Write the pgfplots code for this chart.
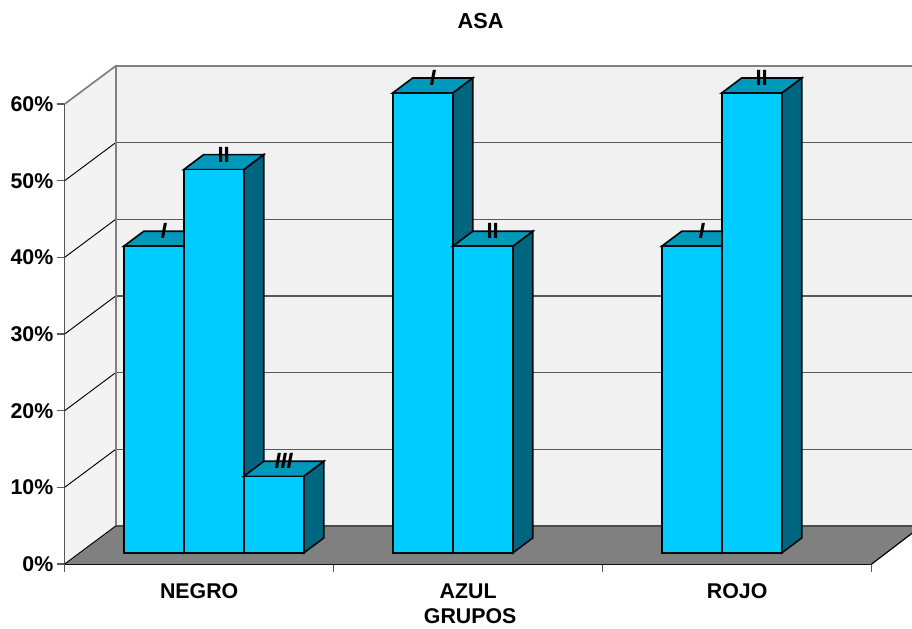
\documentclass[border=0pt]{standalone}
\usepackage{pgfplots}
\usepackage{fontspec}
\pgfplotsset{compat=1.18}
\setmainfont{Liberation Sans}
\definecolor{barfront}{HTML}{00CCFF}
\definecolor{bartop}{HTML}{0099BB}
\definecolor{barside}{HTML}{006680}
\definecolor{wallfill}{HTML}{F1F1F1}
\definecolor{sidewall}{HTML}{F3F3F3}
\definecolor{floorfill}{HTML}{808080}
\definecolor{walledge}{HTML}{808080}
\newcommand{\chartfont}{\bfseries\fontsize{16}{18}\selectfont}
% One 3D column: side, top and front face, lifted off the floor line.
% #1 centre x, #2 value, #3 data label
\newcommand{\drawcolumn}[3]{%
  \pgfmathsetmacro{\xl}{#1-30}%
  \pgfmathsetmacro{\xr}{#1+30}%
  \pgfmathsetmacro{\xlb}{#1-10}%
  \pgfmathsetmacro{\xrb}{#1+50}%
  \pgfmathsetmacro{\yb}{#2+1.957}%
  \pgfmathsetmacro{\zb}{1.957}%
  \edef\faces{%
    \noexpand\addplot[columnedge,fill=barside] coordinates {(\xr,0) (\xrb,\zb) (\xrb,\yb) (\xr,#2)} --cycle;
    \noexpand\addplot[columnedge,fill=bartop] coordinates {(\xl,#2) (\xr,#2) (\xrb,\yb) (\xlb,\yb)} --cycle;
  }\faces
  \addplot[columnedge,fill=barfront,ybar,bar width=60,bar shift=0pt,
    nodes near coords={#3},
    every node near coord/.append style={anchor=center,xshift=7.5pt,yshift=11.25pt,
      font=\fontsize{16.5}{18}\selectfont,text=black}]
    coordinates {(#1,#2)};
}
\begin{document}
\begin{tikzpicture}
\path[use as bounding box] (-48.5pt,-48pt) rectangle (635.5pt,423pt);
\begin{axis}[
  at={(0pt,0pt)}, anchor=origin,
  scale only axis, width=605.25pt, height=345pt,
  xmin=64, xmax=871, ymin=0, ymax=60,
  clip=false,
  axis x line*=bottom, axis y line*=left,
  axis line style={black,line width=0.9pt,-},
  xtick={64,333,602,871},
  x tick label as interval,
  xticklabels={NEGRO,AZUL,ROJO},
  ytick={0,10,...,60},
  yticklabel={\pgfmathprintnumber{\tick}\%},
  /pgf/number format/assume math mode=true,
  tick align=outside,
  major tick length=6pt,
  tick style={draw=black!65,line width=0.9pt},
  tick label style={font=\chartfont,text=black},
  xticklabel style={yshift=-5pt},
  yticklabel style={xshift=1pt},
  title=ASA,
  title style={font=\bfseries\fontsize{16.3}{18}\selectfont,at={(0.5155,1.1630)},anchor=center},
  xlabel=GRUPOS,
  xlabel style={font=\chartfont,at={(0.5,-0.113)},anchor=center,xshift=1.5pt},
  columnedge/.style={draw=black!90!barside,line width=1.25pt,yshift=8.25pt},
]
% Walls and floor
\addplot[draw=none,fill=sidewall] coordinates {(64,0) (115,4.957) (115,64.957) (64,60)} --cycle;
\addplot[draw=none,fill=wallfill] coordinates {(115,4.957) (912,4.957) (912,64.957) (115,64.957)} --cycle;
\addplot[draw=none,fill=floorfill] coordinates {(64,0) (115,4.957) (912,4.957) (912,4.07) (871,0)} --cycle;
% Grid on the back wall
\addplot[draw=black!65,line width=0.9pt] coordinates {(115,14.957) (912,14.957)};
\addplot[draw=black!65,line width=0.9pt] coordinates {(115,24.957) (912,24.957)};
\addplot[draw=black!65,line width=0.9pt] coordinates {(115,34.957) (912,34.957)};
\addplot[draw=black!65,line width=0.9pt] coordinates {(115,44.957) (912,44.957)};
\addplot[draw=black!65,line width=0.9pt] coordinates {(115,54.957) (912,54.957)};
% Grid on the side wall
\addplot[draw=black,line width=0.7pt] coordinates {(64,10) (115,14.957)};
\addplot[draw=black,line width=0.7pt] coordinates {(64,20) (115,24.957)};
\addplot[draw=black,line width=0.7pt] coordinates {(64,30) (115,34.957)};
\addplot[draw=black,line width=0.7pt] coordinates {(64,40) (115,44.957)};
\addplot[draw=black,line width=0.7pt] coordinates {(64,50) (115,54.957)};
% Wall outlines
\addplot[draw=walledge,line width=1.3pt] coordinates {(115,4.957) (115,64.957) (912,64.957)};
\addplot[draw=walledge,line width=1.3pt] coordinates {(64,60) (115,64.957)};
\addplot[draw=black!70,line width=1pt] coordinates {(115,4.957) (912,4.957)};
\addplot[draw=black,line width=0.7pt] coordinates {(64,0) (115,4.957)};
\addplot[draw=black,line width=0.9pt] coordinates {(871,0) (912,4.07)};
% NEGRO
\drawcolumn{153}{40}{\bfseries\itshape I}
\drawcolumn{213}{50}{\bfseries II}
\drawcolumn{273}{10}{\bfseries\itshape III}
% AZUL
\drawcolumn{422}{60}{\bfseries\itshape I}
\drawcolumn{482}{40}{\bfseries II}
% ROJO
\drawcolumn{691}{40}{\bfseries\itshape I}
\drawcolumn{751}{60}{\bfseries II}
\end{axis}
\end{tikzpicture}
\end{document}
